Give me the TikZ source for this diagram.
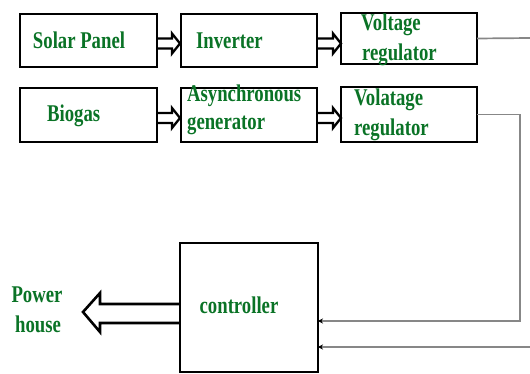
\documentclass[tikz,border=0pt]{standalone}
\usepackage{fontspec}
\setmainfont{Liberation Serif}
\usetikzlibrary{calc,arrows.meta}
\definecolor{txtgreen}{RGB}{10,115,38}
\definecolor{linegray}{RGB}{135,135,135}
\begin{document}
\begin{tikzpicture}[x=1pt,y=-1pt,
  blk/.style={draw=black,line width=2.7pt,inner sep=0pt,outer sep=0pt},
  lbl/.style={text=txtgreen,font=\fontsize{24}{28}\selectfont\bfseries,
    inner sep=0pt,xscale=0.78,transform shape},
  hollow/.style={draw=black,line width=2.3pt,line join=miter},
  conn/.style={draw=linegray,line width=1.7pt},
  tip/.style={-{Stealth[length=5pt,width=5pt,black]}}]
\useasboundingbox (0,0) rectangle (530,374);
% boxes
\node[blk,minimum width=137pt,minimum height=53pt] (b1) at (88.5,40.5) {};
\node[blk,minimum width=136pt,minimum height=53pt] (b2) at (249,40.5) {};
\node[blk,minimum width=136pt,minimum height=51pt] (b3) at (409,38.5) {};
\node[blk,minimum width=137pt,minimum height=54pt] (c1) at (88.5,115) {};
\node[blk,minimum width=136pt,minimum height=54pt] (c2) at (249,115) {};
\node[blk,minimum width=136pt,minimum height=55pt] (c3) at (409,114.5) {};
\node[blk,minimum width=138pt,minimum height=129pt] (ctrl) at (249,307.5) {};
% texts
\node[lbl,anchor=base] (t1) at (79,49) {Solar Panel};
\node[lbl,anchor=base west] (t2) at (196,49) {Inverter};
\node[lbl,anchor=base west] (t3a) at (361,31) {Voltage};
\node[lbl,anchor=base west] (t3b) at (362,61) {regulator};
\node[lbl,anchor=base west] (t4) at (47,122) {Biogas};
\node[lbl,anchor=base west] (t5a) at (187,102) {Asynchronous};
\node[lbl,anchor=base west] (t5b) at (187,130) {generator};
\node[lbl,anchor=base west] (t6a) at (354,106) {Volatage};
\node[lbl,anchor=base west] (t6b) at (354,136) {regulator};
\node[lbl,anchor=base] (t7) at (239,313) {controller};
\node[lbl,anchor=base] (t8a) at (37,302) {Power};
\node[lbl,anchor=base] (t8b) at (38,332) {house};
% hollow arrows between boxes
\draw[hollow] ($(b1.east)+(0,-2)$) -- ++(15,0) -- ++(0,-5) -- ++(8,10) -- ++(-8,10) -- ++(0,-5) -- ++(-15,0);
\draw[hollow] ($(b2.east)+(0,-2)$) -- ++(16,0) -- ++(0,-5) -- ++(8,10) -- ++(-8,10) -- ++(0,-5) -- ++(-16,0);
\draw[hollow] ($(c1.east)+(0,-2)$) -- ++(15,0) -- ++(0,-5) -- ++(8,10) -- ++(-8,10) -- ++(0,-5) -- ++(-15,0);
\draw[hollow] ($(c2.east)+(0,-2)$) -- ++(16,0) -- ++(0,-5) -- ++(8,10) -- ++(-8,10) -- ++(0,-5) -- ++(-16,0);
% power house arrow
\coordinate (ph) at (83,312);
\draw[hollow,line width=2.6pt] ($(ctrl.west)+(0,-3.5)$) -- ($(ph)+(17,-8)$) -- ($(ph)+(17,-19)$) -- (ph) -- ($(ph)+(17,20)$) -- ($(ph)+(17,11)$) -- ($(ctrl.west)+(0,15.5)$);
% connectors
\coordinate (out1) at (530,38);
\coordinate (in1) at (530,347);
\coordinate (bend) at (520,321);
\draw[conn] (b3.east) -- (out1);
\draw[conn,tip] (in1) -- (in1 -| ctrl.east);
\draw[conn,tip] (c3.east) -| (bend) -- (bend -| ctrl.east);
\end{tikzpicture}
\end{document}
